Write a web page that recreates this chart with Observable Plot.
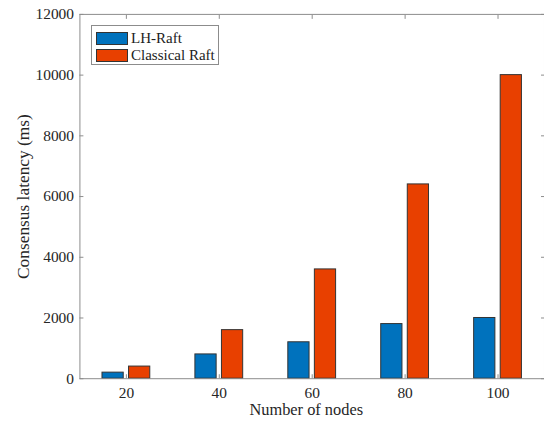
<!DOCTYPE html>
<html>
<head>
<meta charset="utf-8">
<script src="https://cdn.jsdelivr.net/npm/d3@7"></script>
<script src="https://cdn.jsdelivr.net/npm/@observablehq/plot@0.6"></script>
<style>
  html, body { margin: 0; padding: 0; background: #fff; overflow: hidden; }
  #wrap { position: relative; width: 544px; height: 422px; overflow: hidden; }
  #legend {
    position: absolute; left: 91px; top: 25px; width: 128px; height: 40px;
    border: 1px solid #8c8c8c; background: #fff; box-sizing: border-box;
    font-family: "Liberation Serif", "DejaVu Serif", serif; font-size: 15px; color: #222;
    padding: 4px 0 0 4px;
  }
  .item { display: flex; align-items: center; height: 17px; }
  .sw { width: 32px; height: 13px; border: 1px solid #333; margin-right: 3px; box-sizing: border-box; }
</style>
</head>
<body>
<div id="wrap"><div id="legend"></div></div>
<script>
// Consensus latency per cluster size
const nodes = [20, 40, 60, 80, 100];
const series = ["LH-Raft", "Classical Raft"];
const lhRaft = [200, 800, 1200, 1800, 2000];
const classicalRaft = [400, 1600, 3600, 6400, 10000];
const colors = ["#0072BD", "#E84000"];
const yTicks = [0, 2000, 4000, 6000, 8000, 10000, 12000];
const xLabel = ["Number of nodes"];
const yLabel = ["Consensus latency (ms)"];

const values = [lhRaft, classicalRaft];
const data = nodes.flatMap((n, i) =>
  series.map((s, j) => ({nodes: n, series: s, index: j, value: values[j][i]}))
);

// grouped bars: group occupies n/(n+1.5) of spacing, each bar 0.8 of its slot
const spacing = 20;
const groupWidth = Math.min(0.8, series.length / (series.length + 1.5)) * spacing;
const slot = groupWidth / series.length;
const barWidth = slot * 0.8;
const center = d => d.nodes - groupWidth / 2 + slot * (d.index + 0.5);

const serif = "Liberation Serif, DejaVu Serif, serif";
const axisColor = "#8c8c8c";
const blank = () => "";

const chart = Plot.plot({
  width: 548,
  height: 422,
  marginLeft: 80,
  marginRight: 0,
  marginTop: 14,
  marginBottom: 41,
  style: {fontFamily: serif, fontSize: "15.5px", color: "#262626", background: "#fff"},
  x: {domain: [10, 110]},
  y: {domain: [0, 12000]},
  color: {domain: series, range: colors},
  marks: [
    Plot.rectY(data, {
      x1: d => center(d) - barWidth / 2,
      x2: d => center(d) + barWidth / 2,
      y: "value",
      fill: "series",
      stroke: "#333",
      strokeWidth: 1
    }),
    Plot.frame({stroke: axisColor}),
    Plot.axisX({ticks: nodes, anchor: "bottom", tickSize: -4, tickPadding: 12, stroke: axisColor, label: null}),
    Plot.axisX({ticks: nodes, anchor: "top", tickSize: -4, tickFormat: blank, stroke: axisColor, label: null}),
    Plot.axisY({ticks: yTicks, anchor: "left", tickSize: -4, tickPadding: 10, tickFormat: "d", stroke: axisColor, label: null}),
    Plot.axisY({ticks: yTicks, anchor: "right", tickSize: -4, tickFormat: blank, stroke: axisColor, label: null}),
    Plot.text(xLabel, {text: d => d, frameAnchor: "bottom", lineAnchor: "bottom", dx: -6, dy: 37, fontSize: 16.5, fill: "#262626"}),
    Plot.text(yLabel, {text: d => d, frameAnchor: "left", textAnchor: "middle", dx: -57, rotate: -90, fontSize: 17.5, fill: "#262626"})
  ]
});
document.getElementById("wrap").prepend(chart);

// legend entries
const legend = document.getElementById("legend");
series.forEach((s, i) => {
  const item = document.createElement("div");
  item.className = "item";
  const sw = document.createElement("div");
  sw.className = "sw";
  sw.style.background = colors[i];
  const t = document.createElement("span");
  t.textContent = s;
  item.append(sw, t);
  legend.append(item);
});
</script>
</body>
</html>
